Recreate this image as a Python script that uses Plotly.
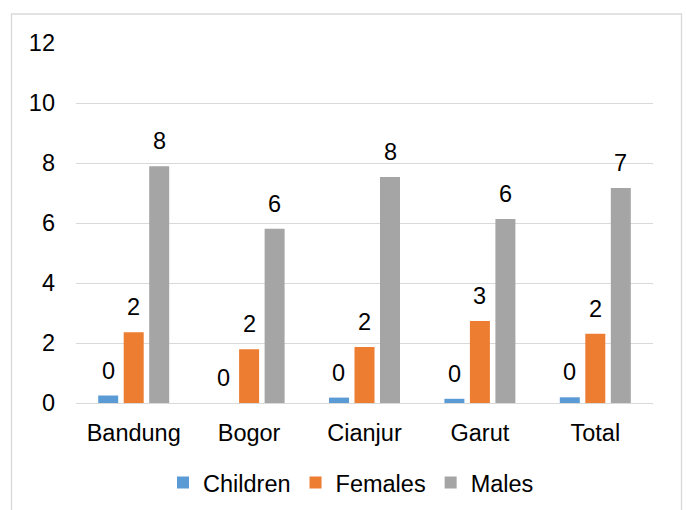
import plotly.graph_objects as go

categories = ["Bandung", "Bogor", "Cianjur", "Garut", "Total"]
children = [0.25, 0.0, 0.18, 0.14, 0.19]
females = [2.36, 1.79, 1.87, 2.73, 2.31]
males = [7.89, 5.81, 7.53, 6.13, 7.17]
series_names = ["Children", "Females", "Males"]
series_colors = ["#5B9BD5", "#ED7D31", "#A5A5A5"]
y_ticks = [0, 2, 4, 6, 8, 10, 12]

FONT = "Liberation Sans, Arial, sans-serif"
FS = 23.5

W, H = 686, 510
L, R, T, B = 76, 33, 43, 107
plot_w = W - L - R
plot_h = H - T - B
cat_w = plot_w / len(categories)
bargap = 0.337
slot = cat_w * (1 - bargap) / 3

fig = go.Figure()
all_series = [children, females, males]
for name, vals, col in zip(series_names, all_series, series_colors):
    fig.add_trace(go.Bar(
        x=categories, y=vals, name=name,
        marker=dict(color=col, line=dict(width=0)),
    ))

annotations = []
for i, vals in enumerate(all_series):
    for c, v in zip(categories, vals):
        annotations.append(dict(
            x=c, y=v, xref="x", yref="y", text=f"{round(v):d}",
            showarrow=False, xanchor="center", yanchor="bottom",
            xshift=(i - 1) * slot, yshift=10,
            font=dict(family=FONT, size=FS, color="#000000"),
        ))

fig.update_layout(
    width=W, height=H,
    margin=dict(l=L, r=R, t=T, b=B, autoexpand=False),
    paper_bgcolor="white", plot_bgcolor="white",
    barmode="group", bargap=bargap, bargroupgap=0.216,
    font=dict(family=FONT, size=FS, color="#000000"),
    showlegend=True,
    legend=dict(orientation="h", xref="container", yref="container",
                x=351 / W, xanchor="center", y=1 - 482.7 / H, yanchor="middle",
                font=dict(family=FONT, size=FS, color="#000000"),
                itemwidth=30, tracegroupgap=0, bgcolor="rgba(0,0,0,0)"),
    annotations=annotations,
    shapes=[dict(type="rect", xref="paper", yref="paper",
                 x0=(11.5 - L) / plot_w, x1=(681.5 - L) / plot_w,
                 y0=(H - B - 520) / plot_h, y1=(H - B - 14) / plot_h,
                 line=dict(color="#D9D9D9", width=1.3), fillcolor="rgba(0,0,0,0)",
                 layer="below")],
)
fig.update_xaxes(showgrid=False, showline=False, ticks="", ticklabelstandoff=13,
                 tickfont=dict(family=FONT, size=FS, color="#000000"))
fig.update_yaxes(range=[0, 12], tickvals=y_ticks, ticktext=[str(t) for t in y_ticks],
                 showgrid=True, gridcolor="#D9D9D9", gridwidth=1,
                 zeroline=True, zerolinecolor="#D9D9D9", zerolinewidth=1.3,
                 showline=False, ticks="", ticklabelstandoff=20,
                 tickfont=dict(family=FONT, size=FS, color="#000000"))

fig.write_html("out.html")
